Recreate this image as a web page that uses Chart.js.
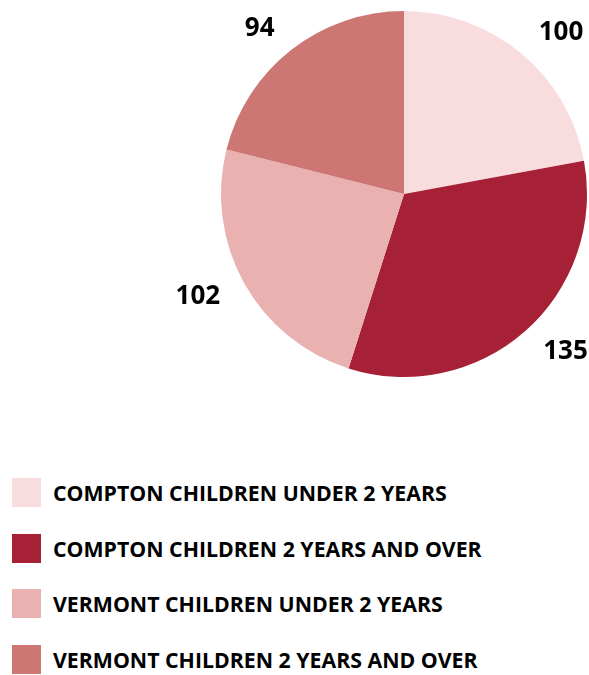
<!DOCTYPE html>
<html>
<head>
<meta charset="utf-8">
<script src="https://cdn.jsdelivr.net/npm/chart.js@4.4.1/dist/chart.umd.min.js"></script>
<style>
    body { margin: 0; background: #fff; font-family: "Open Sans", sans-serif; }
    #wrap { position: relative; width: 589px; height: 675px; }
    #chartBox { position: absolute; left: 0; top: 0; width: 589px; height: 400px; }
    #legend { position: absolute; left: 12px; top: 478px; }
    .row { display: flex; align-items: center; height: 29px; margin-bottom: 26.7px; }
    .box { width: 29px; height: 29px; margin-right: 12px; flex: none; }
    .txt { font-weight: 700; font-size: 21.3px; color: #000; white-space: nowrap; }
</style>
</head>
<body>
<div id="wrap">
    <div id="chartBox"><canvas id="pieChart"></canvas></div>
    <div id="legend"></div>
</div>
<script>
const categories = [
    'COMPTON CHILDREN UNDER 2 YEARS',
    'COMPTON CHILDREN 2 YEARS AND OVER',
    'VERMONT CHILDREN UNDER 2 YEARS',
    'VERMONT CHILDREN 2 YEARS AND OVER'
];
// numbers printed next to the slices
const counts = [100, 135, 102, 94];
// slice sizes as drawn in the picture (share of the circle, %)
const sliceShares = [22.1, 32.8, 24.0, 21.1];
const colors = ['#f8dcde', '#a62036', '#e9b2b1', '#cd7775'];

// value labels outside each slice
const outsideLabels = {
    id: 'outsideLabels',
    afterDatasetsDraw(chart) {
        const ctx = chart.ctx;
        const meta = chart.getDatasetMeta(0);
        ctx.save();
        ctx.font = '700 26px "Open Sans"';
        ctx.fillStyle = '#000';
        ctx.textBaseline = 'middle';
        meta.data.forEach((arc, i) => {
            const mid = (arc.startAngle + arc.endAngle) / 2;
            const r = arc.outerRadius * 1.15;
            const x = arc.x + Math.cos(mid) * r;
            const y = arc.y + Math.sin(mid) * r;
            ctx.textAlign = Math.cos(mid) >= 0 ? 'left' : 'right';
            ctx.fillText(String(counts[i]), x, y);
        });
        ctx.restore();
    }
};

new Chart(document.getElementById('pieChart'), {
    type: 'pie',
    data: {
        labels: categories,
        datasets: [{
            data: sliceShares,
            backgroundColor: colors,
            borderWidth: 0
        }]
    },
    options: {
        responsive: true,
        maintainAspectRatio: false,
        animation: false,
        layout: { padding: { top: 11, left: 221, right: 2, bottom: 23 } },
        plugins: {
            legend: { display: false },
            tooltip: { enabled: false }
        }
    },
    plugins: [outsideLabels]
});

// legend below the chart
const legend = document.getElementById('legend');
categories.forEach((name, i) => {
    const row = document.createElement('div');
    row.className = 'row';
    const box = document.createElement('div');
    box.className = 'box';
    box.style.background = colors[i];
    const txt = document.createElement('div');
    txt.className = 'txt';
    txt.textContent = name;
    row.appendChild(box);
    row.appendChild(txt);
    legend.appendChild(row);
});
</script>
</body>
</html>
